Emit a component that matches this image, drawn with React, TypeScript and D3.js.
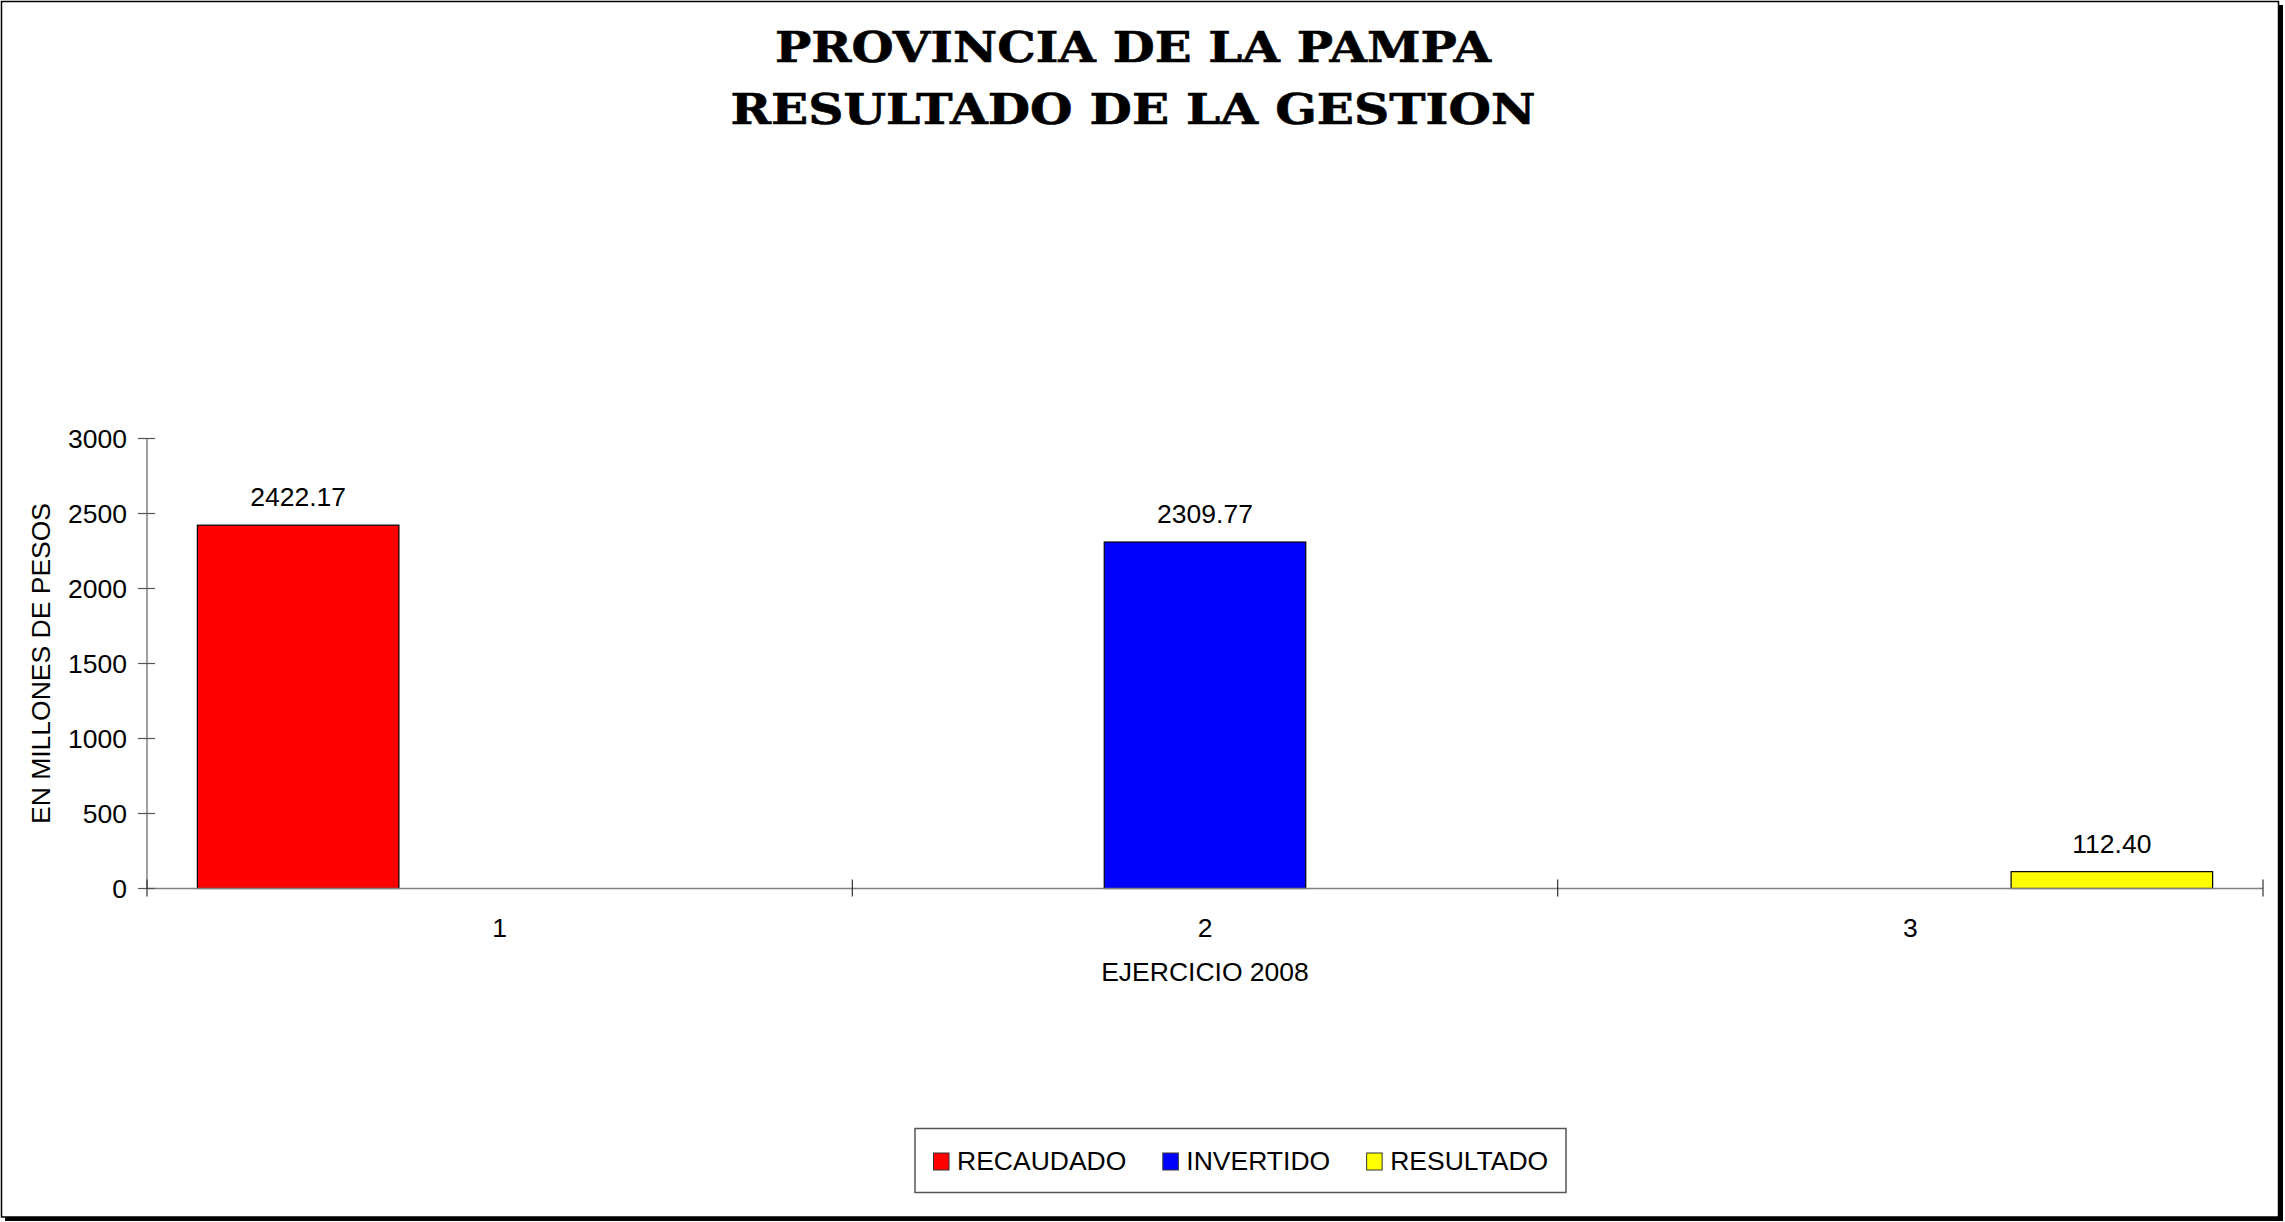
import React, { useEffect, useRef } from "react";
import * as d3 from "d3";

const W = 2285;
const H = 1222;

const titleLines = ["PROVINCIA DE LA PAMPA", "RESULTADO DE LA GESTION"];
const categories = ["1", "2", "3"];
const seriesNames = ["RECAUDADO", "INVERTIDO", "RESULTADO"];
const seriesColors = ["#FF0000", "#0000FF", "#FFFF00"];
const recaudado: (number | null)[] = [2422.17, null, null];
const invertido: (number | null)[] = [null, 2309.77, null];
const resultado: (number | null)[] = [null, null, 112.4];
const yTicks = [0, 500, 1000, 1500, 2000, 2500, 3000];
const yTitle = "EN MILLONES DE PESOS";
const xTitle = "EJERCICIO 2008";

const FONT = "Arial, 'Liberation Sans', sans-serif";
const FS = 26.5;

export default function App() {
  const ref = useRef<SVGSVGElement | null>(null);

  useEffect(() => {
    const svg = d3.select(ref.current);
    svg.selectAll("*").remove();

    const left = 147, right = 2263, top = 438.5, bottom = 888.5;
    const seriesValues = [recaudado, invertido, resultado];

    // background + border with shadow
    svg.append("rect").attr("x", 0).attr("y", 0).attr("width", W).attr("height", H).attr("fill", "#fff");
    svg.append("rect").attr("x", 2279).attr("y", 5).attr("width", 4).attr("height", 1216).attr("fill", "#000");
    svg.append("rect").attr("x", 5).attr("y", 1217).attr("width", 2278).attr("height", 4).attr("fill", "#000");
    svg.append("rect").attr("x", 1.5).attr("y", 1.5).attr("width", 2277).attr("height", 1215.5)
      .attr("fill", "#fff").attr("stroke", "#000").attr("stroke-width", 1.5);

    // title
    const titleG = svg.append("g");
    const titleWidths = [716, 805];
    titleLines.forEach((t, i) => {
      titleG.append("text")
        .attr("x", 1133).attr("y", 62 + i * 62)
        .attr("text-anchor", "middle")
        .attr("font-family", "'DejaVu Serif', serif")
        .attr("font-weight", "bold")
        .attr("font-size", 42)
        .attr("textLength", titleWidths[i])
        .attr("lengthAdjust", "spacingAndGlyphs")
        .attr("stroke", "#000").attr("stroke-width", 0.6)
        .attr("fill", "#000")
        .text(t);
    });

    const x0 = d3.scaleBand<string>().domain(categories).range([left, right]).paddingInner(0).paddingOuter(0);
    const x1 = d3.scaleBand<string>().domain(seriesNames).range([0, x0.bandwidth()]).paddingInner(0).paddingOuter(0.25);
    const y = d3.scaleLinear().domain([0, 3000]).range([bottom, top]);

    // bars
    const barsG = svg.append("g");
    seriesNames.forEach((s, si) => {
      categories.forEach((c, ci) => {
        const v = seriesValues[si][ci];
        if (v == null) return;
        const bx = (x0(c) as number) + (x1(s) as number);
        barsG.append("rect")
          .attr("x", bx).attr("y", y(v))
          .attr("width", x1.bandwidth()).attr("height", y(0) - y(v))
          .attr("fill", seriesColors[si]).attr("stroke", "#000").attr("stroke-width", 1.2);
        barsG.append("text")
          .attr("x", bx + x1.bandwidth() / 2).attr("y", y(v) - 19)
          .attr("text-anchor", "middle")
          .attr("font-family", FONT).attr("font-size", FS).attr("fill", "#000")
          .text(d3.format(".2f")(v));
      });
    });

    // axes
    const axisG = svg.append("g");
    axisG.append("line").attr("x1", left).attr("x2", left).attr("y1", top).attr("y2", bottom)
      .attr("stroke", "#808080").attr("stroke-width", 1.5);
    axisG.append("line").attr("x1", left).attr("x2", right).attr("y1", bottom).attr("y2", bottom)
      .attr("stroke", "#808080").attr("stroke-width", 1.5);

    yTicks.forEach((t) => {
      axisG.append("line").attr("x1", left - 9).attr("x2", left + 8).attr("y1", y(t)).attr("y2", y(t))
        .attr("stroke", "#555").attr("stroke-width", 1.2);
      axisG.append("text").attr("x", left - 20).attr("y", y(t)).attr("dy", "0.36em")
        .attr("text-anchor", "end").attr("font-family", FONT).attr("font-size", FS).attr("fill", "#000")
        .text(String(t));
    });

    const xBounds = [left, ...categories.map((c) => (x0(c) as number) + x0.bandwidth())];
    xBounds.forEach((bx) => {
      axisG.append("line").attr("x1", bx).attr("x2", bx).attr("y1", bottom - 9).attr("y2", bottom + 8)
        .attr("stroke", "#333").attr("stroke-width", 1.2);
    });
    categories.forEach((c) => {
      axisG.append("text").attr("x", (x0(c) as number) + x0.bandwidth() / 2).attr("y", 937)
        .attr("text-anchor", "middle").attr("font-family", FONT).attr("font-size", FS).attr("fill", "#000")
        .text(c);
    });

    // axis titles
    svg.append("text").attr("x", (left + right) / 2).attr("y", 981)
      .attr("text-anchor", "middle").attr("font-family", FONT).attr("font-size", FS).attr("fill", "#000")
      .text(xTitle);
    svg.append("text").attr("transform", `translate(50,${(top + bottom) / 2}) rotate(-90)`)
      .attr("text-anchor", "middle").attr("font-family", FONT).attr("font-size", FS).attr("fill", "#000")
      .text(yTitle);

    // legend
    const legG = svg.append("g");
    legG.append("rect").attr("x", 915).attr("y", 1128.5).attr("width", 651).attr("height", 64)
      .attr("fill", "#fff").attr("stroke", "#555").attr("stroke-width", 1.5);
    let cx = 933.5;
    seriesNames.forEach((s, i) => {
      legG.append("rect").attr("x", cx).attr("y", 1153).attr("width", 15.5).attr("height", 17)
        .attr("fill", seriesColors[i]).attr("stroke", "#333").attr("stroke-width", 1);
      const t = legG.append("text").attr("x", cx + 23.5).attr("y", 1170)
        .attr("font-family", FONT).attr("font-size", FS).attr("fill", "#000").text(s);
      const w = (t.node() as SVGTextElement).getComputedTextLength();
      cx = cx + 23.5 + w + 36.5;
    });
  }, []);

  return (
    <svg
      ref={ref}
      width={W}
      height={H}
      viewBox={`0 0 ${W} ${H}`}
      style={{ position: "absolute", left: 0, top: 0, display: "block" }}
    />
  );
}
